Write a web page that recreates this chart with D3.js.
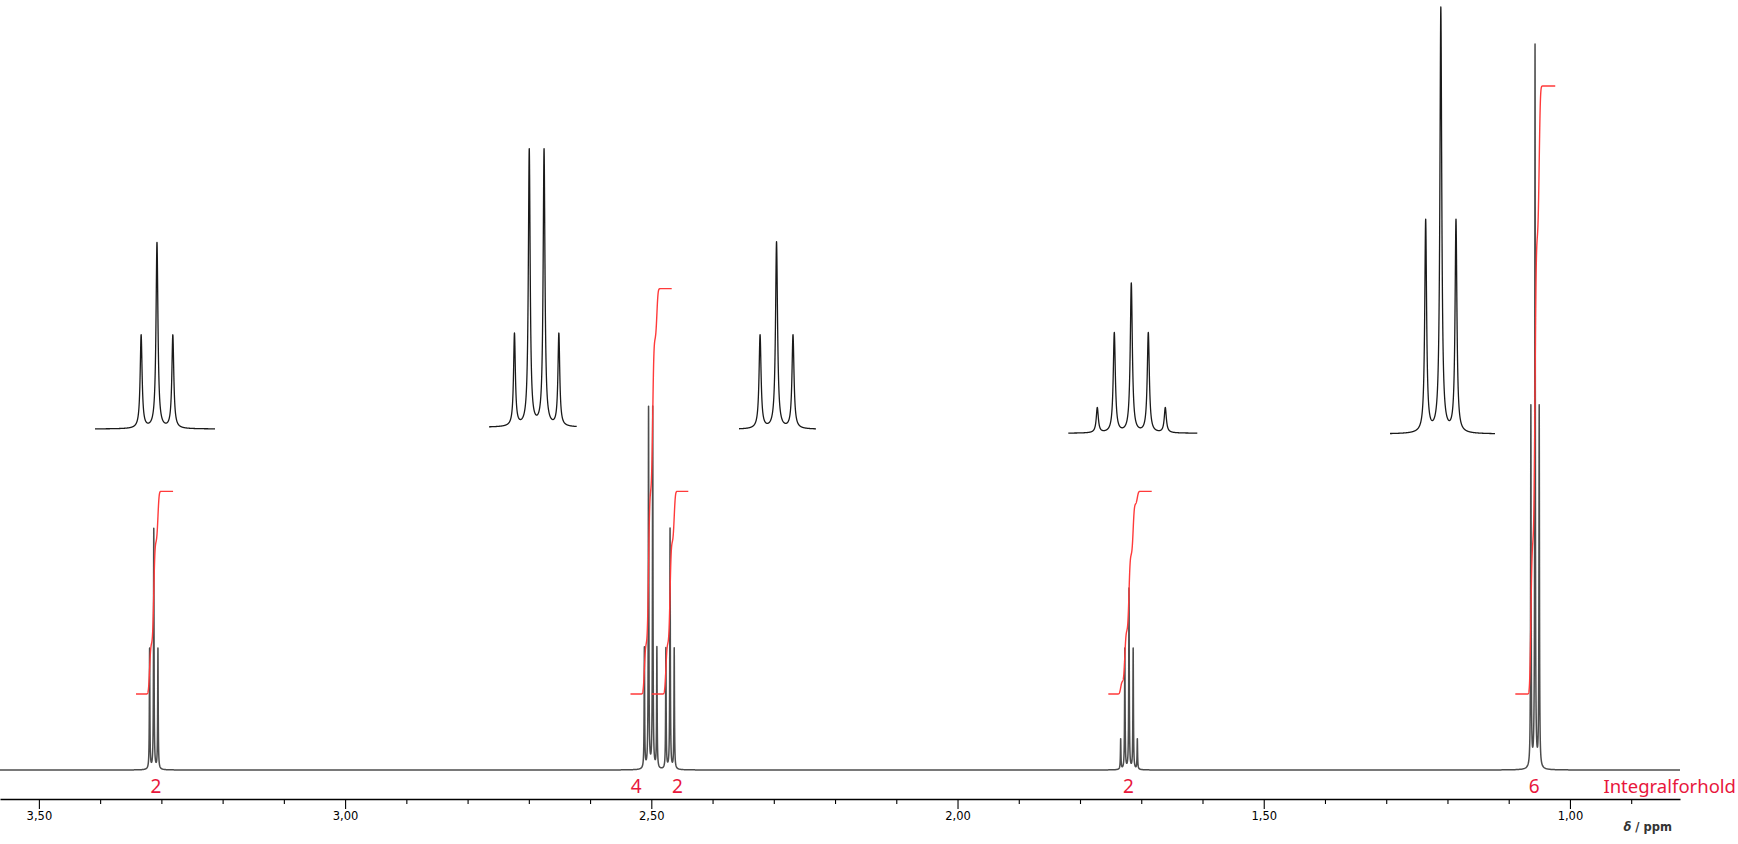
<!DOCTYPE html>
<html><head><meta charset="utf-8">
<script src="https://cdn.jsdelivr.net/npm/d3@7"></script>
<style>html,body{margin:0;padding:0;background:#fff;} svg{display:block;}</style>
</head><body>
<svg id="chart" width="1738" height="844"></svg>
<script>
// ---------------- data ----------------
// peak positions (ppm) and intensities (% of tallest line)
const peakPpm = [
  3.3192, 3.3124, 3.3056,
  2.5113, 2.5045, 2.4977, 2.4909,
  2.4762, 2.4694, 2.4626,
  1.7336, 1.7268, 1.7200, 1.7132, 1.7064,
  1.0638, 1.0570, 1.0502
];
const peakIntensity = [
  16.7, 33.3, 16.7,
  16.7, 50, 50, 16.7,
  16.7, 33.3, 16.7,
  4.2, 16.7, 25, 16.7, 4.2,
  50, 100, 50
];
const peakGroup = [0,0,0, 1,1,1,1, 2,2,2, 3,3,3,3,3, 4,4,4];

// integrals: ppm ranges, values, label positions
const integralStart = [3.3414, 2.5340, 2.4994, 1.7538, 1.0892];
const integralEnd   = [3.2809, 2.4667, 2.4396, 1.6829, 1.0240];
const integralValue = [2, 4, 2, 2, 6];
const integralLabelPpm = [3.309, 2.5245, 2.4575, 1.721, 1.0583];
const integralLabels = ["2", "4", "2", "2", "6"];

// expanded multiplets (insets): ppm window shown for each group
const insetHi = [3.3390, 2.5230, 2.4849, 1.7452, 1.0798];
const insetLo = [3.2875, 2.4827, 2.4531, 1.6936, 1.0327];
const insetMax = [33.3, 50, 33.3, 25, 100];

// axis
const xDomain = [3.5635, 0.8203];
const majorTicks = [3.5, 3.0, 2.5, 2.0, 1.5, 1.0];
const majorTickLabels = ["3,50", "3,00", "2,50", "2,00", "1,50", "1,00"];
const minorTicks = [3.4,3.3,3.2,3.1,2.9,2.8,2.7,2.6,2.4,2.3,2.2,2.1,1.9,1.8,1.7,1.6,1.4,1.3,1.2,1.1,0.9];
const axisTitle = "δ / ppm";
const integralTitle = "Integralforhold";

// ---------------- layout ----------------
const plotRight = 1680;
const baseY = 770, topY = 48;
const axisY = 799;
const intBaseY = 694, intTopY = 86;
const insetBoxes = [
  {x0: 95,     x1: 215,    base: 429,   top: 243.3},
  {x0: 489,    x1: 576.7,  base: 427.3, top: 150.7},
  {x0: 739,    x1: 816,    base: 429.3, top: 242.7},
  {x0: 1068.3, x1: 1197.3, base: 433.3, top: 284},
  {x0: 1390,   x1: 1495,   base: 434,   top: 9.3}
];
const lineHW = 0.0005;   // Lorentzian half width (ppm)
const intSigma = 0.0015; // smoothing of integral steps (ppm)

const svg = d3.select("#chart");
const x = d3.scaleLinear().domain(xDomain).range([0, plotRight]);
const y = d3.scaleLinear().domain([0, 100]).range([baseY, topY]);
const yInt = d3.scaleLinear().domain([0, 6]).range([intBaseY, intTopY]);

function spectrum(ppm, idxs) {
  let s = 0;
  for (const i of idxs) {
    const d = (ppm - peakPpm[i]) / lineHW;
    s += peakIntensity[i] / (1 + d * d);
  }
  return s;
}
const allIdx = peakPpm.map((_, i) => i);

// main spectrum sampling grid
let grid = d3.range(xDomain[1], xDomain[0], 0.001);
grid.push(xDomain[0]);
peakPpm.forEach(p => {
  for (let k = -250; k <= 250; k++) grid.push(p + k * 0.00003);
  grid.push(p);
});
grid = grid.filter(p => p <= xDomain[0] && p >= xDomain[1]).sort((a, b) => b - a);

const line = d3.line().x(d => d[0]).y(d => d[1]);

svg.append("path")
  .attr("d", line(grid.map(p => [x(p), y(spectrum(p, allIdx))])))
  .attr("fill", "none").attr("stroke", "#4d4d4d").attr("stroke-width", 1.5)
  .attr("stroke-linejoin", "round");

// insets
insetBoxes.forEach((b, g) => {
  const idxs = allIdx.filter(i => peakGroup[i] === g);
  const xi = d3.scaleLinear().domain([insetHi[g], insetLo[g]]).range([b.x0, b.x1]);
  const yi = d3.scaleLinear().domain([0, insetMax[g]]).range([b.base, b.top]);
  let gg = d3.range(insetLo[g], insetHi[g], 0.00002);
  gg.push(insetHi[g]);
  idxs.forEach(i => gg.push(peakPpm[i]));
  gg.sort((a, c) => c - a);
  svg.append("path")
    .attr("d", line(gg.map(p => [xi(p), yi(spectrum(p, idxs))])))
    .attr("fill", "none").attr("stroke", "#1a1a1a").attr("stroke-width", 1.3)
    .attr("stroke-linejoin", "round");
});

// integrals
function erf(z) {
  const s = z < 0 ? -1 : 1; z = Math.abs(z);
  const t = 1 / (1 + 0.3275911 * z);
  const yv = 1 - (((((1.061405429 * t - 1.453152027) * t) + 1.421413741) * t - 0.284496736) * t + 0.254829592) * t * Math.exp(-z * z);
  return s * yv;
}
integralValue.forEach((v, g) => {
  const idxs = allIdx.filter(i => peakGroup[i] === g);
  const tot = d3.sum(idxs, i => peakIntensity[i]);
  let gg = d3.range(integralStart[g], integralEnd[g], -0.0001);
  gg.push(integralEnd[g]);
  const pts = gg.map(p => {
    let c = 0;
    idxs.forEach(i => { c += peakIntensity[i] * 0.5 * (1 + erf((peakPpm[i] - p) / (intSigma * Math.SQRT2))); });
    return [x(p), yInt(c / tot * v)];
  });
  svg.append("path").attr("d", line(pts))
    .attr("fill", "none").attr("stroke", "#ff3a3a").attr("stroke-width", 1.4)
    .attr("stroke-linejoin", "round");
});

// integral labels
svg.selectAll("text.intlab").data(integralLabels).enter().append("text")
  .attr("class", "intlab")
  .attr("x", (d, i) => x(integralLabelPpm[i]))
  .attr("y", 793)
  .attr("text-anchor", "middle")
  .attr("font-family", "Noto Sans, sans-serif").attr("font-size", 19)
  .attr("fill", "#e8173c").text(d => d);

svg.append("text").attr("x", 1736).attr("y", 793).attr("text-anchor", "end")
  .attr("font-family", "Noto Sans, sans-serif").attr("font-size", 18.5)
  .attr("fill", "#e8173c").text(integralTitle);

// axis
const axMajor = d3.axisBottom(x).tickValues(majorTicks)
  .tickFormat((d, i) => majorTickLabels[i]).tickSize(10).tickSizeOuter(0).tickPadding(3);
const gMaj = svg.append("g").attr("transform", `translate(0,${axisY})`).call(axMajor);
gMaj.selectAll("text").attr("font-family", "DejaVu Sans, sans-serif").attr("font-size", 11.5).attr("fill", "#000");
gMaj.select(".domain").attr("stroke", "#000").attr("stroke-width", 1.3);
gMaj.selectAll(".tick line").attr("stroke", "#000").attr("stroke-width", 1.1);

const axMinor = d3.axisBottom(x).tickValues(minorTicks).tickFormat("").tickSize(5).tickSizeOuter(0);
const gMin = svg.append("g").attr("transform", `translate(0,${axisY})`).call(axMinor);
gMin.select(".domain").remove();
gMin.selectAll(".tick line").attr("stroke", "#000").attr("stroke-width", 1.1);

svg.append("text").attr("x", 1672).attr("y", 831).attr("text-anchor", "end")
  .attr("font-family", "DejaVu Sans, sans-serif").attr("font-size", 11.5)
  .attr("font-weight", "bold").attr("fill", "#333")
  .html('<tspan font-style="italic">δ</tspan> / ppm');
</script>
</body></html>
